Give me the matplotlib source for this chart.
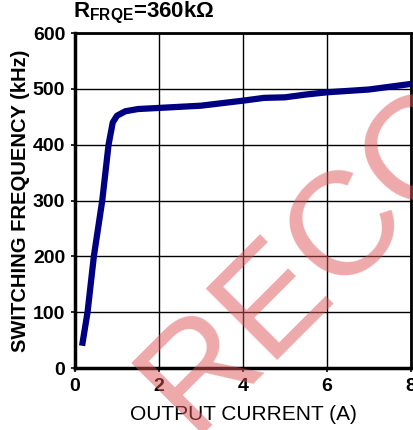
import numpy as np
import matplotlib
matplotlib.use("Agg")
import matplotlib.pyplot as plt

plt.rcParams['font.family'] = ["Liberation Sans", "DejaVu Sans"]
plt.rcParams['mathtext.fontset'] = "custom"
plt.rcParams['mathtext.rm'] = "Liberation Sans"
plt.rcParams['mathtext.bf'] = "Liberation Sans:bold"

# curve
current = [0.17, 0.30, 0.45, 0.65, 0.80, 0.90, 1.0, 1.2, 1.5, 2.0, 3.0, 4.0, 4.5, 5.0, 5.5, 6.0, 7.0, 8.0]
freq = [40, 100, 200, 300, 400, 440, 452, 460, 464, 466, 470, 479, 484, 485, 490, 494, 499, 509]

xticks = [0, 2, 4, 6, 8]
yticks = [0, 100, 200, 300, 400, 500, 600]

fig = plt.figure(figsize=(4.14, 4.30), dpi=100)
ax = fig.add_axes([0.181, 0.144, 0.812, 0.779])

ax.plot(current, freq, color="#000080", lw=4.5, solid_capstyle="butt", zorder=3)

ax.set_xlim(0, 8)
ax.set_ylim(0, 600)
ax.set_xticks(xticks)
ax.set_yticks(yticks)
ax.grid(True, color="black", lw=1.0)
ax.tick_params(length=3, width=1.2, labelsize=14, pad=4)
for lab in ax.get_xticklabels() + ax.get_yticklabels():
    lab.set_fontweight("bold")
for s in ax.spines.values():
    s.set_linewidth(2)
ax.spines["left"].set_linewidth(2.5)
ax.spines["bottom"].set_linewidth(2.5)

ax.set_xlabel("OUTPUT CURRENT (A)", fontsize=15, labelpad=7)
ax.set_ylabel("SWITCHING FREQUENCY (kHz)", fontsize=14.5, fontweight="bold", labelpad=2)

fig.text(0.176, 1.0, r"$\mathbf{R_{FRQE}}$=360k$\mathbf{\Omega}$", fontsize=16,
         fontweight="bold", ha="left", va="top")

# watermark
fig.text(0.461, -0.01, "RECOMMENDED", fontsize=106, color="#dd5555", alpha=0.5,
         rotation=45, rotation_mode="anchor", ha="left", va="baseline",
         zorder=10)

fig.savefig("out.png", dpi=100)
